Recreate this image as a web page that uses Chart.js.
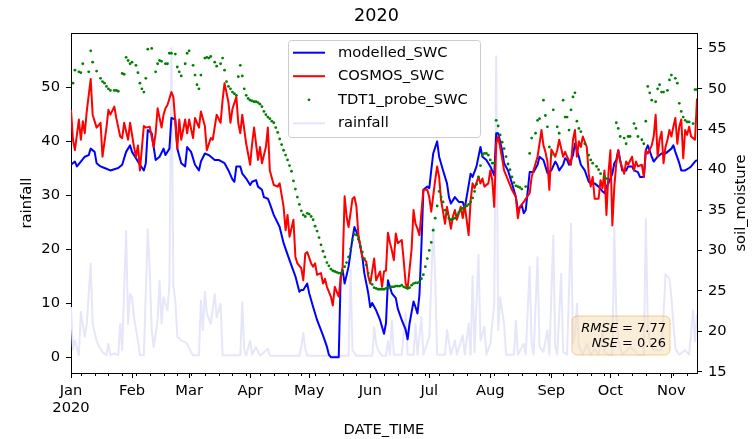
<!DOCTYPE html>
<html>
<head>
<meta charset="utf-8">
<script src="https://cdn.jsdelivr.net/npm/chart.js@4/dist/chart.umd.min.js"></script>
<style>
  html, body { margin: 0; padding: 0; background: #ffffff; }
  canvas { display: block; }
</style>
</head>
<body>
<canvas id="chart" width="753" height="439"></canvas>
<script>
// ---- data: day index counted from 2020-01-01 ----
const monthStart = [0, 31, 60, 91, 121, 152, 182, 213, 244, 274, 305];
const monthLabel = ['Jan', 'Feb', 'Mar', 'Apr', 'May', 'Jun', 'Jul', 'Aug', 'Sep', 'Oct', 'Nov'];
const yearLabel = '2020';
const lastDay = 318;
const firstMonday = 5;
const rainTicks = [0, 10, 20, 30, 40, 50];
const soilTicks = [15, 20, 25, 30, 35, 40, 45, 50, 55];

const modelledDay = [0,2,3,5,7,9,10,12,13,15,17,20,24,26,28,30,31,33,35,37,38,39,41,42,43,45,47,48,50,51,53,54,56,58,59,61,63,65,66,68,70,73,75,78,80,82,83,84,86,87,89,91,92,94,95,97,98,100,101,103,106,108,111,114,116,117,118,120,121,123,125,128,130,131,132,136,137,138,139,141,143,144,146,148,149,151,152,153,155,157,159,160,161,163,165,166,168,170,171,172,174,175,176,177,178,179,181,182,183,184,186,187,189,191,192,193,195,197,199,200,203,204,206,208,209,211,213,215,216,217,219,220,222,224,226,227,229,230,231,233,235,237,238,240,242,244,246,247,248,250,251,252,253,255,256,257,258,259,261,263,264,266,268,270,271,272,273,275,276,277,278,280,282,283,285,286,288,289,291,292,293,295,296,298,300,302,303,305,306,307,309,310,312,314,315,317,318];
const modelledSWC = [40.6,41.0,40.4,41.0,41.6,41.8,42.6,42.2,40.8,40.4,40.2,39.9,40.2,40.6,42.2,43.0,42.2,41.4,40.6,39.9,40.8,44.9,44.5,42.8,41.2,41.6,42.6,41.8,42.6,46.4,46.2,42.6,40.8,40.4,42.8,42.2,40.6,39.9,41.0,42.0,41.8,41.2,41.2,40.8,39.9,38.8,38.5,40.4,40.4,39.5,38.9,38.1,38.5,38.7,37.9,37.5,36.6,36.4,35.8,34.4,32.9,30.9,28.8,26.8,24.9,25.1,25.1,25.9,24.7,23.0,21.4,19.5,18.1,17.1,16.8,16.8,26.8,27.6,25.9,28.0,31.5,32.9,31.7,29.2,27.2,24.7,23.0,23.5,22.6,21.4,19.7,21.0,26.3,24.7,24.1,22.8,21.4,20.2,19.0,21.0,23.7,23.0,22.2,24.5,30.5,37.5,37.9,37.7,39.9,42.0,43.5,41.6,39.9,38.3,36.6,35.8,36.6,36.0,36.0,35.2,39.5,39.1,40.4,42.8,41.6,41.2,40.4,39.3,44.5,44.5,42.4,40.8,39.9,38.3,36.6,35.0,35.6,34.6,35.0,39.7,39.7,40.6,41.6,41.2,39.6,39.9,41.0,40.6,39.9,40.6,41.4,41.2,40.6,41.8,43.2,42.4,41.6,40.6,39.9,38.5,38.3,38.3,37.9,37.3,37.1,37.9,38.3,39.5,40.8,41.2,42.4,39.9,39.9,40.4,40.4,39.9,39.7,39.1,39.1,42.4,43.0,41.6,41.0,41.6,42.0,42.0,42.2,42.6,43.0,42.2,40.8,39.9,39.9,40.2,40.4,41.0,41.2];

const cosmosDay = [0,1,2,4,5,6,7,8,10,11,13,15,16,18,19,20,22,23,25,26,27,29,30,32,33,34,35,37,38,40,42,43,44,46,47,48,49,51,52,54,55,56,58,59,60,62,63,65,66,68,69,71,72,74,76,77,78,80,81,82,84,85,86,87,89,91,92,93,95,96,97,99,100,101,103,105,106,108,109,110,111,113,114,115,117,118,119,120,122,123,124,125,127,128,129,130,132,133,134,136,137,138,139,140,141,143,144,145,146,148,150,151,152,154,155,157,158,159,160,161,162,163,164,165,166,168,169,170,171,173,174,175,176,177,179,181,182,183,185,186,187,188,189,190,191,193,194,195,196,198,199,200,202,203,204,205,207,208,209,210,212,213,214,215,216,217,219,220,222,224,226,227,228,230,231,233,234,236,237,238,239,240,241,242,243,244,246,247,248,250,251,252,254,255,256,257,258,259,260,262,263,264,265,266,268,269,270,271,272,273,274,275,276,277,278,279,281,282,283,285,286,287,288,290,291,292,293,295,296,297,298,299,300,301,302,303,304,305,306,307,308,309,310,311,312,313,314,315,316,317,318];
const cosmosSWC = [47.4,43.7,42.4,46.2,43.7,46.0,44.5,47.2,51.2,46.8,45.2,45.8,41.6,45.2,47.4,46.8,47.8,46.4,44.1,43.9,45.8,43.7,45.8,42.8,41.6,43.0,39.9,45.4,45.2,45.3,42.8,44.5,47.6,45.2,46.8,47.6,48.0,49.6,49.0,42.6,46.2,43.7,46.2,44.5,46.2,43.9,46.4,45.2,47.2,45.4,42.4,43.9,43.7,46.8,45.8,48.6,50.7,48.3,45.8,47.5,49.0,45.7,44.5,46.8,43.2,40.6,43.2,45.2,41.2,42.8,40.8,42.8,45.2,39.9,38.1,37.9,38.3,35.4,32.5,34.4,31.7,33.8,29.2,28.4,27.8,26.3,29.6,29.8,28.4,28.0,28.4,27.0,27.2,25.9,26.5,25.5,24.3,23.2,25.5,24.3,26.5,28.0,36.7,34.2,32.9,36.4,36.6,35.4,31.9,29.2,28.6,26.8,25.9,29.0,26.3,27.4,25.5,27.4,27.5,32.2,31.0,30.0,28.8,32.1,30.9,31.3,28.8,25.9,25.3,30.1,35.0,33.3,32.7,31.9,37.5,37.5,36.6,34.8,38.7,40.4,39.1,36.2,34.8,33.3,35.4,32.7,34.2,35.0,33.8,35.4,34.0,35.6,31.9,36.2,38.3,37.7,39.1,38.3,38.9,37.9,38.3,39.9,38.7,35.4,43.2,44.1,41.4,39.9,38.7,37.5,36.6,34.0,35.4,36.0,36.4,37.1,39.1,40.8,41.6,43.2,44.9,43.0,42.2,41.0,37.5,42.5,41.6,42.4,43.7,41.6,42.2,41.6,40.6,43.7,44.9,41.6,43.5,42.8,44.1,42.8,39.5,37.9,39.1,36.4,36.4,38.7,37.7,39.9,34.4,39.5,42.4,33.1,37.9,40.8,42.4,41.0,39.5,41.0,40.6,41.6,39.9,41.0,40.4,40.6,39.1,42.4,42.0,43.0,44.1,46.8,41.6,43.7,44.7,40.8,42.8,43.7,44.9,44.1,45.3,46.4,43.2,45.3,46.2,41.4,44.9,44.3,45.3,44.1,43.9,43.7,48.8];

const probeDay = [1,2,4,5,6,9,10,11,13,15,16,17,18,19,20,22,23,24,26,27,28,29,30,31,33,34,35,36,37,38,39,41,43,44,45,46,48,49,50,51,53,54,55,56,58,59,60,62,63,64,65,66,68,69,70,71,73,74,76,77,78,79,80,81,82,83,84,85,86,87,88,89,90,91,92,93,94,95,96,97,98,99,100,101,102,103,104,105,106,107,108,109,110,111,112,113,114,115,116,117,118,119,120,121,122,123,124,125,126,127,128,129,130,131,132,133,134,135,136,137,138,139,140,141,142,143,144,145,146,147,148,149,150,151,152,153,154,155,156,157,158,159,160,161,162,163,164,165,166,167,168,169,170,171,172,173,174,175,176,177,178,179,180,181,182,183,184,185,186,187,188,189,190,191,192,193,194,195,196,197,198,199,200,201,202,203,204,205,206,207,208,209,210,211,212,213,214,215,216,217,218,219,220,221,222,223,224,225,226,227,228,229,231,233,234,236,237,238,240,241,242,243,244,245,247,248,250,251,252,253,254,255,256,257,258,259,261,263,264,265,267,268,269,271,272,277,278,279,281,282,283,284,286,287,288,290,291,292,293,294,295,297,298,299,300,301,303,304,305,307,308,309,310,311,312,313,314,316,317,318];
const probeSWC = [50.7,52.3,52.1,52.0,53.1,52.1,54.7,53.3,52.2,51.3,50.9,50.7,50.3,50.0,49.8,49.8,49.8,49.7,51.9,51.8,53.9,53.5,53.1,53.3,52.9,52.0,50.7,50.0,49.6,51.3,54.9,55.0,52.1,53.1,53.5,53.4,53.1,53.1,54.4,54.4,54.3,52.7,52.1,51.6,53.1,54.4,54.7,52.9,51.7,50.5,50.0,51.7,53.8,53.9,53.8,54.0,53.3,52.8,53.1,53.8,52.3,50.9,50.3,50.0,49.6,49.4,49.2,51.5,52.9,51.6,50.0,49.2,48.8,48.6,48.5,48.4,48.4,48.3,48.1,47.8,47.2,46.8,46.5,46.3,46.0,45.8,45.2,44.6,43.8,43.1,42.4,41.8,41.2,40.5,39.8,38.6,37.6,36.6,35.7,34.9,34.4,34.2,34.6,34.5,34.2,33.8,33.0,32.4,31.6,30.7,29.9,29.2,28.5,28.1,27.7,27.5,27.4,27.3,27.2,27.2,27.4,28.0,28.5,29.2,30.2,31.3,32.0,31.9,31.4,30.5,29.8,29.0,28.2,27.2,26.3,25.8,25.4,25.3,25.2,25.2,25.2,25.2,25.3,25.4,25.4,25.5,25.5,25.6,25.6,25.6,25.7,25.5,25.4,25.3,25.4,25.7,25.9,26.0,26.0,26.1,26.5,27.0,28.0,29.0,30.0,31.0,32.5,34.0,35.5,37.3,36.6,36.0,35.0,34.5,34.0,33.8,33.9,34.0,34.4,34.7,35.0,35.2,35.4,35.5,35.7,36.0,36.5,37.3,38.2,39.1,40.5,41.8,42.0,42.0,41.8,41.2,40.8,40.8,46.1,45.4,44.3,43.4,42.6,41.6,40.7,40.0,39.1,38.4,38.0,37.9,37.8,37.6,37.9,42.0,43.9,44.5,46.1,46.3,48.6,46.7,45.3,42.8,41.8,47.4,45.3,44.5,48.6,46.5,46.5,44.9,47.4,49.0,49.5,46.0,45.1,44.7,43.2,41.8,41.2,40.8,40.4,40.0,39.5,39.1,38.9,45.8,45.1,44.1,43.9,43.2,44.1,44.1,45.7,45.1,44.1,43.7,43.2,46.0,50.3,49.5,48.6,48.4,50.0,50.5,49.6,49.6,49.8,51.1,51.7,51.3,50.7,48.2,47.2,46.5,46.1,45.9,45.9,45.7,49.9,49.9];

const rainDay = [0,1,2,4,5,7,8,10,11,13,14,16,18,19,20,22,24,25,26,28,29,30,31,32,34,35,37,39,40,41,42,44,45,46,47,49,50,51,52,53,54,56,58,59,61,62,65,66,67,68,69,71,73,74,76,77,86,87,88,89,91,92,94,96,100,101,116,117,118,119,120,141,142,143,145,153,154,155,156,158,160,161,162,163,164,168,170,171,174,175,176,178,179,182,184,185,186,190,191,193,195,196,199,200,202,203,204,205,207,208,210,211,213,215,216,217,218,220,221,225,226,227,230,231,233,234,235,237,238,240,242,243,245,246,247,249,250,252,254,255,256,257,258,260,262,264,266,268,270,271,273,275,276,277,278,280,284,286,288,291,292,293,294,296,300,301,302,304,305,306,307,309,312,314,316,317,318];
const rainfall = [9.3,1.5,3.1,0.4,8.4,3.8,6.2,17.3,6.2,3.1,2.2,1.0,0.4,2.5,0.4,0.7,0.4,6.2,1.3,23.4,6.2,11.7,11.1,7.4,3.1,0.4,0.4,23.7,16.1,5.0,1.9,6.8,14.2,6.2,11.1,8.7,13.6,57.2,13.0,10.5,3.8,3.1,2.8,2.5,1.0,0.4,0.4,10.5,5.0,12.1,8.1,6.2,11.7,7.4,9.9,0.4,0.4,10.2,1.5,0.3,3.1,0.5,1.9,0.3,1.6,0.3,0.3,1.9,4.5,1.6,0.3,0.3,16.1,1.3,0.3,0.3,5.6,2.5,1.3,0.3,0.3,3.0,0.5,6.8,0.5,0.5,8.1,0.5,0.5,6.2,0.5,7.4,0.5,3.8,24.0,14.8,0.5,0.5,5.0,0.5,3.1,0.5,4.1,0.5,6.2,0.5,15.0,1.0,19.0,3.1,5.6,0.5,2.5,9.9,55.7,5.0,11.1,6.2,0.5,0.5,6.8,0.5,2.5,0.5,16.7,2.5,0.5,18.5,2.0,1.0,5.0,0.5,22.5,2.0,0.5,15.4,1.0,0.5,24.7,2.5,4.0,9.9,2.0,0.5,2.5,0.5,1.5,0.5,5.0,1.0,0.5,0.5,24.0,8.1,3.1,0.5,1.9,1.3,0.5,0.5,25.6,6.2,2.5,1.3,1.3,8.0,15.4,14.5,11.1,6.2,1.6,0.5,1.3,0.5,8.7,3.0,8.0];

const rmse = '7.77';
const nse = '0.26';

// ---- styling ----
const FONT = 'DejaVu Sans';
const BASE = 14.7;
Chart.defaults.font.family = FONT;
Chart.defaults.font.size = BASE;
Chart.defaults.color = '#000000';

const toPoints = (days, vals) => days.map((d, i) => ({ x: d, y: vals[i] }));

const weekTicks = [];
for (let d = firstMonday; d <= lastDay; d += 7) {
  if (!monthStart.includes(d)) weekTicks.push(d);
}

function roundRect(ctx, x, y, w, h, r) {
  ctx.beginPath();
  ctx.moveTo(x + r, y);
  ctx.lineTo(x + w - r, y);
  ctx.arcTo(x + w, y, x + w, y + r, r);
  ctx.lineTo(x + w, y + h - r);
  ctx.arcTo(x + w, y + h, x + w - r, y + h, r);
  ctx.lineTo(x + r, y + h);
  ctx.arcTo(x, y + h, x, y + h - r, r);
  ctx.lineTo(x, y + r);
  ctx.arcTo(x, y, x + r, y, r);
  ctx.closePath();
}

// frame top edge, weekly minor ticks and the right-hand axis title
const framePlugin = {
  id: 'frame',
  afterDraw(chart) {
    const { ctx, chartArea: a, scales } = chart;
    ctx.save();
    ctx.strokeStyle = '#000000';
    ctx.lineWidth = 1;
    ctx.beginPath();
    ctx.moveTo(a.left, Math.round(a.top) + 0.5);
    ctx.lineTo(a.right, Math.round(a.top) + 0.5);
    for (const d of weekTicks) {
      const x = Math.round(scales.x.getPixelForValue(d)) + 0.5;
      ctx.moveTo(x, a.bottom);
      ctx.lineTo(x, a.bottom + 3);
    }
    ctx.stroke();

    ctx.fillStyle = '#000000';
    ctx.font = `${BASE}px "${FONT}"`;
    ctx.textAlign = 'center';
    ctx.textBaseline = 'middle';
    ctx.translate(741, (a.top + a.bottom) / 2);
    ctx.rotate(-Math.PI / 2);
    ctx.fillText('soil_moisture', 0, 0);
    ctx.restore();
  }
};

// legend box inside the plot, upper centre
const legendPlugin = {
  id: 'boxLegend',
  afterDraw(chart) {
    const ctx = chart.ctx;
    ctx.save();
    roundRect(ctx, 288.5, 40.5, 192, 97, 3);
    ctx.fillStyle = 'rgba(255,255,255,0.8)';
    ctx.fill();
    ctx.strokeStyle = '#cccccc';
    ctx.lineWidth = 1;
    ctx.stroke();
    const rows = [52.7, 76.2, 99.8, 123.3];
    ctx.font = `${BASE}px "${FONT}"`;
    ctx.textAlign = 'left';
    ctx.textBaseline = 'middle';
    chart.data.datasets.forEach((ds, i) => {
      const y = rows[i];
      if (ds.showLine === false) {
        ctx.fillStyle = ds.pointBackgroundColor;
        ctx.beginPath();
        ctx.arc(309, y, ds.pointRadius, 0, Math.PI * 2);
        ctx.fill();
      } else {
        ctx.strokeStyle = ds.borderColor;
        ctx.lineWidth = ds.borderWidth;
        ctx.beginPath();
        ctx.moveTo(293, y);
        ctx.lineTo(325, y);
        ctx.stroke();
      }
      ctx.fillStyle = '#000000';
      ctx.fillText(ds.label, 338, y);
    });
    ctx.restore();
  }
};

// goodness-of-fit box, lower right
const scorePlugin = {
  id: 'scoreBox',
  afterDraw(chart) {
    const ctx = chart.ctx;
    ctx.save();
    roundRect(ctx, 572, 316, 98, 39, 5);
    ctx.fillStyle = 'rgba(245,222,179,0.5)';
    ctx.fill();
    ctx.strokeStyle = 'rgba(240,170,60,0.55)';
    ctx.lineWidth = 1;
    ctx.stroke();
    const size = 13;
    const lines = [['RMSE', ' = ' + rmse, 329], ['NSE', ' = ' + nse, 344]];
    const right = 666;
    ctx.fillStyle = '#000000';
    ctx.textBaseline = 'middle';
    ctx.textAlign = 'left';
    for (const [name, rest, y] of lines) {
      ctx.font = `${size}px "${FONT}"`;
      const wRest = ctx.measureText(rest).width;
      ctx.font = `italic ${size}px "${FONT}"`;
      const wName = ctx.measureText(name).width;
      const x0 = right - wRest - wName;
      ctx.fillText(name, x0, y);
      ctx.font = `${size}px "${FONT}"`;
      ctx.fillText(rest, x0 + wName, y);
    }
    ctx.restore();
  }
};

const axisGrid = { drawOnChartArea: false, drawTicks: true, tickLength: 5, color: '#000000', lineWidth: 1 };
const axisBorder = { display: true, color: '#000000', width: 1 };

new Chart(document.getElementById('chart'), {
  type: 'line',
  data: {
    datasets: [
      {
        label: 'modelled_SWC',
        data: toPoints(modelledDay, modelledSWC),
        yAxisID: 'ySoil',
        borderColor: '#0000ff',
        borderWidth: 2,
        pointRadius: 0,
        borderJoinStyle: 'round',
        order: 3
      },
      {
        label: 'COSMOS_SWC',
        data: toPoints(cosmosDay, cosmosSWC),
        yAxisID: 'ySoil',
        borderColor: '#ff0000',
        borderWidth: 2,
        pointRadius: 0,
        borderJoinStyle: 'round',
        order: 2
      },
      {
        label: 'TDT1_probe_SWC',
        data: toPoints(probeDay, probeSWC),
        yAxisID: 'ySoil',
        showLine: false,
        pointRadius: 1.4,
        pointBackgroundColor: '#008000',
        pointBorderWidth: 0,
        borderColor: '#008000',
        order: 1
      },
      {
        label: 'rainfall',
        data: toPoints(rainDay, rainfall),
        yAxisID: 'yRain',
        borderColor: '#e6e6fa',
        borderWidth: 2,
        pointRadius: 0,
        borderJoinStyle: 'round',
        order: 4
      }
    ]
  },
  options: {
    responsive: false,
    animation: false,
    devicePixelRatio: 1,
    layout: { padding: 0 },
    events: [],
    plugins: {
      legend: { display: false },
      tooltip: { enabled: false },
      title: {
        display: true,
        text: yearLabel,
        color: '#000000',
        font: { family: FONT, size: 17.6, weight: 'normal' },
        padding: { top: 6, bottom: 6 }
      }
    },
    scales: {
      x: {
        type: 'linear',
        min: 0,
        max: lastDay,
        afterBuildTicks: s => { s.ticks = monthStart.map(v => ({ value: v })); },
        afterFit: s => { s.height = 66; },
        ticks: {
          autoSkip: false,
          maxRotation: 0,
          minRotation: 0,
          padding: 4,
          callback: v => {
            const i = monthStart.indexOf(v);
            return i === 0 ? [monthLabel[0], yearLabel] : monthLabel[i];
          }
        },
        grid: axisGrid,
        border: axisBorder,
        title: { display: true, text: 'DATE_TIME', padding: { top: 0, bottom: 0 } }
      },
      yRain: {
        type: 'linear',
        position: 'left',
        min: -2.9,
        max: 60.0,
        afterBuildTicks: s => { s.ticks = rainTicks.map(v => ({ value: v })); },
        afterFit: s => { s.width = 71; },
        ticks: { padding: 6 },
        grid: axisGrid,
        border: axisBorder,
        title: { display: true, text: 'rainfall', padding: { top: 18.7, bottom: 0 } }
      },
      ySoil: {
        type: 'linear',
        position: 'right',
        min: 14.84,
        max: 56.89,
        afterBuildTicks: s => { s.ticks = soilTicks.map(v => ({ value: v })); },
        afterFit: s => { s.width = 56; },
        ticks: { padding: 6 },
        grid: axisGrid,
        border: axisBorder,
        title: { display: false }
      }
    }
  },
  plugins: [framePlugin, legendPlugin, scorePlugin]
});
</script>
</body>
</html>
